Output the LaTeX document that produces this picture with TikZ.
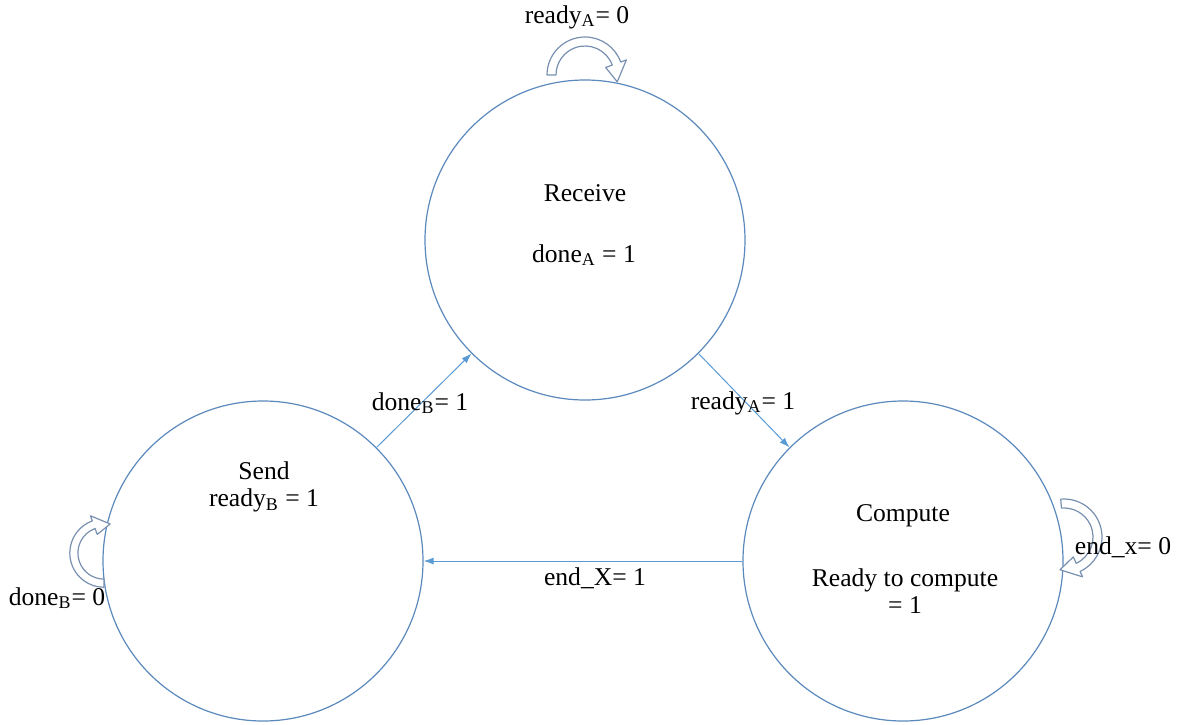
\documentclass[tikz,border=0pt]{standalone}
\usepackage{fontspec}
\setmainfont{Liberation Serif}
\usetikzlibrary{arrows.meta,positioning}
\definecolor{ringblue}{HTML}{5B89BC}
\definecolor{linkblue}{HTML}{5B9BD5}
\definecolor{loopgray}{HTML}{7890B0}
% curved block arrow: centre, turn, size
\newcommand{\selfloop}[3]{%
  \begin{scope}[shift={#1},yscale=-1,rotate=#2,scale=#3]
    \draw[loopline] (180:38) arc[start angle=180,end angle=20,radius=38] -- (20:44)
      -- (-12:33) -- (20:22) -- (20:29) arc[start angle=20,end angle=180,radius=29] -- cycle;
  \end{scope}}
\begin{document}
\begin{tikzpicture}[x=0.5pt,y=-0.5pt,>={Latex[length=5pt,width=3.5pt]},
  state/.style={circle,draw=ringblue,line width=0.6pt,minimum size=160pt,inner sep=0pt},
  txt/.style={font=\fontsize{12.8}{13.5}\selectfont,align=center,inner sep=1pt},
  link/.style={draw=linkblue,line width=0.5pt,->},
  loopline/.style={draw=loopgray,line width=0.6pt,fill=white,line join=round}]
\useasboundingbox (0,0) rectangle (1179,724);
% states
\node[state] (receive) at (585,240) {};
\node[state] (send) at (263,561) {};
\node[state] (compute) at (903,561) {};
\node[txt] (receive-name) at (585,193) {Receive};
\node[txt] (receive-out) at (584,255) {done\textsubscript{A} = 1};
\node[txt] (send-name) at (264,487) {Send\\ready\textsubscript{B} = 1};
\node[txt] (compute-name) at (903,516) {Compute};
\node[txt] (compute-out) at (905,591) {Ready to compute\\= 1};
% transitions
\draw[link] (send.45) -- (receive.225);
\draw[link] (receive.-45) -- (compute.135);
\draw[link] (compute.west) -- (send.east);
\node[txt] (lab-doneB1) at (420,403) {done\textsubscript{B}= 1};
\node[txt] (lab-readyA1) at (743,403) {ready\textsubscript{A}= 1};
\node[txt] (lab-endX1) at (595,578) {end\_X= 1};
% self loops
\selfloop{(585,75)}{0}{1}
\selfloop{(104,553)}{-90}{0.9}
\selfloop{(1064,537)}{85}{1}
\node[txt] (lab-readyA0) at (577,17) {ready\textsubscript{A}= 0};
\node[txt] (lab-doneB0) at (57,598) {done\textsubscript{B}= 0};
\node[txt] (lab-endx0) at (1123,547) {end\_x= 0};
\end{tikzpicture}
\end{document}
